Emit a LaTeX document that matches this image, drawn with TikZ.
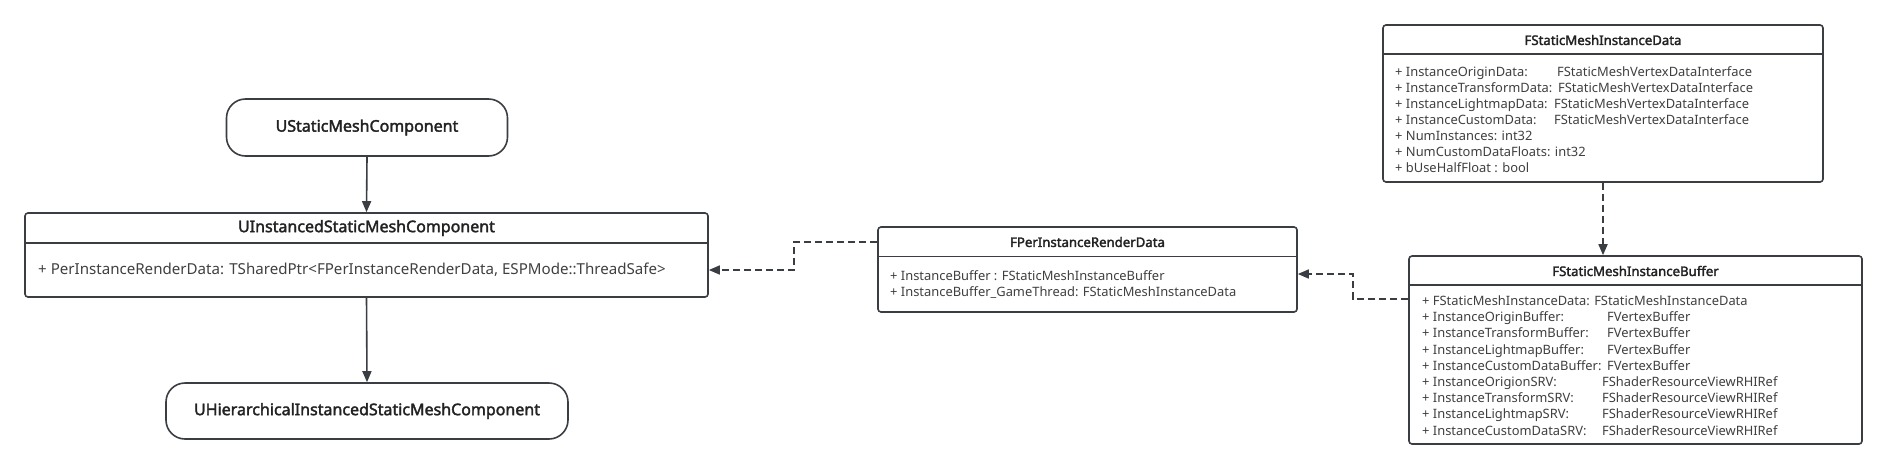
\documentclass[tikz,border=0pt]{standalone}
\usepackage{fontspec}
\setmainfont{Noto Sans}[BoldFont={Noto Sans}, BoldFeatures={FakeBold=2.2}]
\usetikzlibrary{arrows.meta}
\definecolor{linecol}{HTML}{3A3D42}
\definecolor{bodycol}{HTML}{404040}
\definecolor{titlecol}{HTML}{222222}
\tikzset{
  classbox/.style={draw=linecol, line width=1.6pt, rounded corners=3pt, fill=white, inner sep=0pt},
  pillbox/.style={draw=linecol, line width=1.6pt, rounded corners=19pt, fill=white, inner sep=0pt,
    font=\bfseries\fontsize{16}{18}\selectfont, text=titlecol},
  bigtitle/.style={font=\bfseries\fontsize{16}{18}\selectfont, text=titlecol, inner sep=0pt},
  smalltitle/.style={font=\bfseries\fontsize{13.2}{14}\selectfont, text=titlecol, inner sep=0pt},
  bigbody/.style={font=\fontsize{15.1}{18}\selectfont, text=bodycol, inner sep=0pt, anchor=west},
  smallbody/.style={font=\fontsize{12.9}{16}\selectfont, text=bodycol, inner sep=0pt, anchor=west, align=left},
  sep/.style={draw=linecol, line width=1.6pt},
  solidarrow/.style={draw=linecol, line width=1.6pt, -{Triangle[length=11pt,width=9pt]}},
  dasharrow/.style={draw=linecol, line width=1.6pt, dash pattern=on 7pt off 4pt, -{Triangle[length=11pt,width=9pt]}}
}
\begin{document}
\begin{tikzpicture}[x=1pt,y=-1pt]
\useasboundingbox (0,0) rectangle (1887,469);
% left column
\node[pillbox, minimum width=281pt, minimum height=57pt] (usmc) at (367,127.5) {UStaticMeshComponent};
\node[classbox, minimum width=683pt, minimum height=84pt] (uismc) at (366.5,255) {};
\node[bigtitle] (uismct) at (366.5,228) {UInstancedStaticMeshComponent};
\draw[sep] (uismc.west |- 0,243) coordinate (uismcsl) -- (uismc.east |- 0,243) coordinate (uismcsr);
\node[bigbody] (uismcb) at (38,270) {+ PerInstanceRenderData: TSharedPtr<FPerInstanceRenderData, ESPMode::ThreadSafe>};
\node[pillbox, minimum width=402pt, minimum height=56pt] (uhismc) at (367,411) {UHierarchicalInstancedStaticMeshComponent};
% FPerInstanceRenderData
\node[classbox, minimum width=419pt, minimum height=85pt] (fpird) at (1087.5,269.5) {};
\node[smalltitle] (fpirdt) at (1087.5,242) {FPerInstanceRenderData};
\draw[sep] (fpird.west |- 0,256.5) coordinate (fpirdsl) -- (fpird.east |- 0,256.5) coordinate (fpirdsr);
\node[smallbody] (fpirdb) at (890,285) {+ InstanceBuffer : FStaticMeshInstanceBuffer\\+ InstanceBuffer\_GameThread: FStaticMeshInstanceData};
% FStaticMeshInstanceData
\node[classbox, minimum width=440pt, minimum height=157pt] (fsmid) at (1603,103.5) {};
\node[smalltitle] (fsmidt) at (1603,40) {FStaticMeshInstanceData};
\draw[sep] (fsmid.west |- 0,54) coordinate (fsmidsl) -- (fsmid.east |- 0,54) coordinate (fsmidsr);
\node[smallbody] (fsmidb) at (1395,119.5) {%
\makebox[162pt][l]{+ InstanceOriginData:}FStaticMeshVertexDataInterface\\
\makebox[163pt][l]{+ InstanceTransformData:}FStaticMeshVertexDataInterface\\
\makebox[159pt][l]{+ InstanceLightmapData:}FStaticMeshVertexDataInterface\\
\makebox[159pt][l]{+ InstanceCustomData:}FStaticMeshVertexDataInterface\\
+ NumInstances: int32\\
+ NumCustomDataFloats: int32\\
+ bUseHalfFloat : bool};
% FStaticMeshInstanceBuffer
\node[classbox, minimum width=453pt, minimum height=188pt] (fsmib) at (1635.5,350) {};
\node[smalltitle] (fsmibt) at (1635.5,271) {FStaticMeshInstanceBuffer};
\draw[sep] (fsmib.west |- 0,285) coordinate (fsmibsl) -- (fsmib.east |- 0,285) coordinate (fsmibsr);
\node[smallbody, font=\fontsize{12.9}{16.2}\selectfont] (fsmibb) at (1422,365.5) {%
+ FStaticMeshInstanceData: FStaticMeshInstanceData\\
\makebox[185pt][l]{+ InstanceOriginBuffer:}FVertexBuffer\\
\makebox[185pt][l]{+ InstanceTransformBuffer:}FVertexBuffer\\
\makebox[185pt][l]{+ InstanceLightmapBuffer:}FVertexBuffer\\
\makebox[185pt][l]{+ InstanceCustomDataBuffer:}FVertexBuffer\\
\makebox[180pt][l]{+ InstanceOrigionSRV:}FShaderResourceViewRHIRef\\
\makebox[180pt][l]{+ InstanceTransformSRV:}FShaderResourceViewRHIRef\\
\makebox[180pt][l]{+ InstanceLightmapSRV:}FShaderResourceViewRHIRef\\
\makebox[180pt][l]{+ InstanceCustomDataSRV:}FShaderResourceViewRHIRef};
% connectors
\draw[solidarrow] (usmc.south) -- (uismc.north);
\draw[solidarrow] (uismc.south) -- (uhismc.north);
\draw[dasharrow] (fsmid.south) -- (fsmid.south |- fsmib.north);
\coordinate (b1) at (1353,299);
\coordinate (b2) at (1353,274);
\draw[dasharrow] (fsmib.west |- b1) -- (b1) -- (b2) -- (fpird.east |- b2);
\coordinate (c1) at (794,242);
\coordinate (c2) at (794,270);
\draw[dasharrow] (fpird.west |- c1) -- (c1) -- (c2) -- (uismc.east |- c2);
\end{tikzpicture}
\end{document}
